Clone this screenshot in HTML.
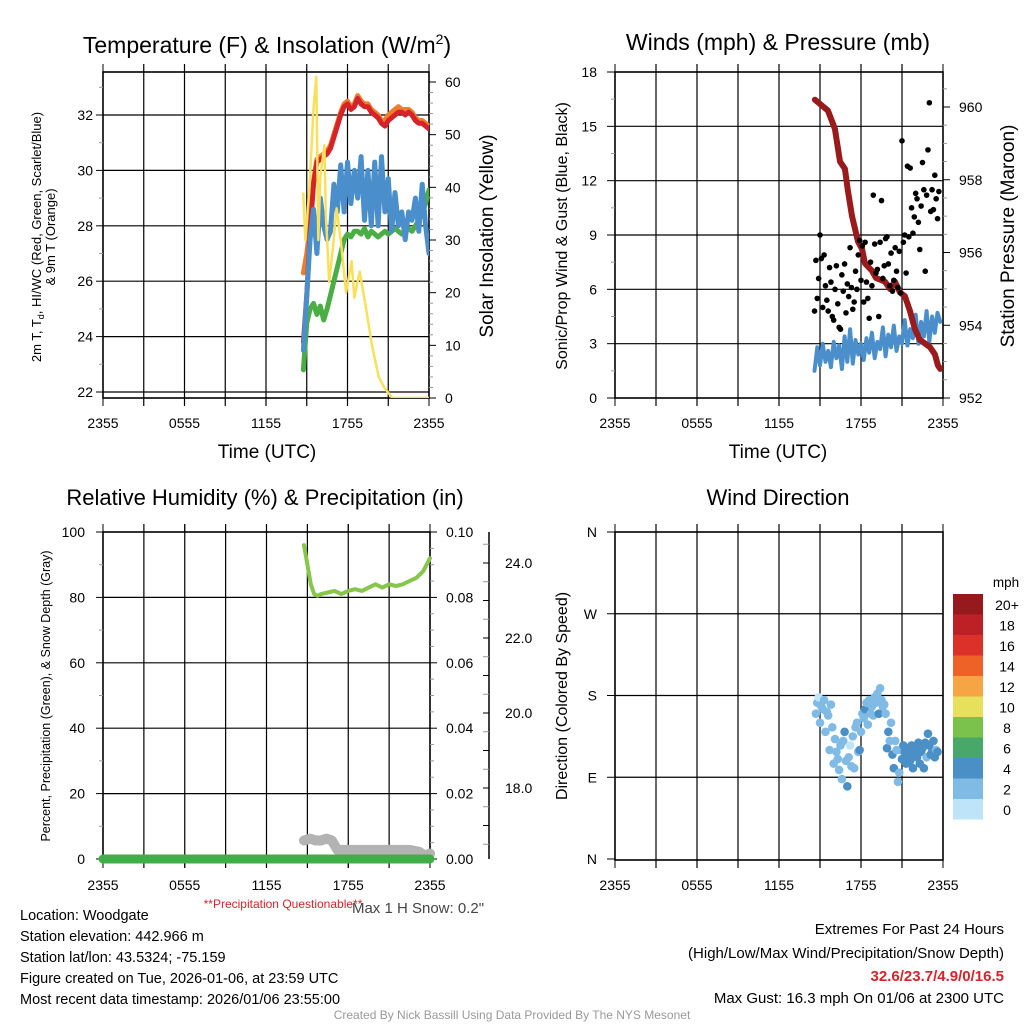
<!DOCTYPE html>
<html><head><meta charset="utf-8">
<style>
html,body{margin:0;padding:0;background:#fff;}
svg{display:block;font-family:"Liberation Sans",Arial,sans-serif;}
</style></head>
<body>
<svg id="c" width="1024" height="1024" viewBox="0 0 1024 1024"></svg>
<script>
// ---------- DATA ----------
const xTickLabels = ["2355","0555","1155","1755","2355"];
// Panel 1 (hours since 23:55 previous day)
const t1 = [14.75,15,15.25,15.5,15.75,16,16.25,16.5,16.75,17,17.25,17.5,17.75,18,18.25,18.5,18.75,19,19.25,19.5,19.75,20,20.25,20.5,20.75,21,21.25,21.5,21.75,22,22.25,22.5,22.75,23,23.25,23.5,23.75,24];
const temp2m = [23.8,25.5,27.8,29.5,30.3,30.4,30.5,30.6,30.8,31.2,31.6,32.0,32.3,32.4,32.2,32.3,32.6,32.4,32.3,32.3,32.1,32.0,31.9,31.7,31.6,31.8,31.9,32.0,32.1,32.1,32.0,32.1,32.0,31.8,31.7,31.7,31.6,31.5];
const temp9m = [26.3,27.0,28.0,29.6,30.4,30.5,30.6,30.7,30.9,31.3,31.7,32.1,32.4,32.5,32.3,32.4,32.7,32.5,32.4,32.4,32.2,32.1,32.0,31.8,31.8,32.0,32.1,32.2,32.3,32.2,32.2,32.2,32.1,31.9,31.8,31.8,31.7,31.6];
const dewpt = [22.8,24.5,25.0,25.2,24.8,25.1,24.6,25.0,25.5,26.0,26.5,27.0,27.5,27.7,27.6,27.8,27.8,27.7,27.9,27.6,27.8,27.7,27.6,27.7,27.8,27.7,27.8,27.9,27.8,27.7,27.8,27.9,27.8,28.0,28.2,28.5,28.8,29.3];
const windChill = [23.5,25.5,27.5,28.6,27.0,29.0,28.0,27.5,27.8,29.5,28.5,30.2,28.5,30.3,28.8,30.0,29.0,30.5,28.2,30.0,28.0,30.3,28.0,30.5,28.5,29.7,27.8,29.2,28.0,28.5,27.5,28.5,28.2,29.0,27.8,29.5,28.0,27.0];
const tSolar = [14.74,14.9,15.2,15.5,15.7,15.85,16.0,16.3,16.4,16.65,16.9,17.2,17.5,17.9,18.3,18.5,18.9,19.3,19.8,20.3,20.7,21.3,24];
const solar = [39,30,40,55,61,30,42,48,35,22,28,36,30,20,26,19,24,18,10,4,2,0,0];
const tempTicks = [22,24,26,28,30,32];
const solarTicks = [0,10,20,30,40,50,60];
// Panel 2
const tWind = [14.6,14.8,15,15.2,15.4,15.6,15.8,16,16.2,16.4,16.6,16.8,17,17.2,17.4,17.6,17.8,18,18.2,18.4,18.6,18.8,19,19.2,19.4,19.6,19.8,20,20.2,20.4,20.6,20.8,21,21.2,21.4,21.6,21.8,22,22.2,22.4,22.6,22.8,23,23.2,23.4,23.6,23.8];
const windSpd = [1.5,2.8,1.8,3.0,2.0,2.6,1.7,3.1,2.2,2.9,1.6,3.4,2.0,3.8,1.9,3.2,2.4,3.0,2.1,3.3,2.5,3.6,2.2,3.1,2.7,3.9,2.3,3.5,2.8,4.0,2.6,3.4,3.0,4.3,2.9,3.8,3.3,4.6,3.0,4.2,3.4,4.8,3.1,4.5,3.6,4.7,4.2];
const tGust = [14.6,14.7,14.8,14.9,15.0,15.1,15.2,15.3,15.4,15.5,15.6,15.7,15.8,15.9,16.0,16.1,16.2,16.3,16.4,16.5,16.6,16.7,16.8,16.9,17.0,17.1,17.2,17.3,17.4,17.5,17.6,17.7,17.8,17.9,18.0,18.1,18.2,18.3,18.4,18.5,18.6,18.7,18.8,18.9,19.0,19.1,19.2,19.3,19.4,19.5,19.6,19.7,19.8,19.9,20.0,20.1,20.2,20.3,20.4,20.5,20.6,20.7,20.8,20.9,21.0,21.1,21.2,21.3,21.4,21.5,21.6,21.7,21.8,21.9,22.0,22.1,22.2,22.3,22.4,22.5,22.6,22.7,22.8,22.9,23.0,23.1,23.2,23.3,23.4,23.5,23.6,23.7];
const gust = [4.8,7.6,5.5,6.6,9.0,7.7,5.0,7.9,6.2,5.4,4.8,7.2,6.4,4.5,4.3,6.0,7.3,5.2,3.9,3.8,6.8,5.9,7.4,4.7,6.3,5.6,8.3,6.1,4.9,5.3,7.0,6.0,7.9,8.7,6.5,8.4,5.3,8.6,6.4,5.5,4.4,7.5,6.2,11.2,8.5,6.9,7.1,4.5,8.6,10.9,6.6,7.3,8.8,8.9,7.4,6.2,8.0,5.9,6.5,8.3,7.0,6.1,8.1,5.8,14.2,8.6,9.0,6.9,12.8,8.9,12.7,10.5,9.1,10.0,11.3,11.0,9.7,8.2,10.6,13.0,11.5,7.0,11.2,13.7,16.3,10.3,11.5,10.4,12.3,11.0,9.9,11.4];
const tPres = [14.63,15.58,16.09,16.46,16.82,17.04,17.34,17.78,18.07,18.29,18.8,19.1,19.75,20.12,20.48,20.85,21.21,21.58,21.94,22.31,23.04,23.41,23.63,23.8];
const pressure = [960.2,959.9,959.4,958.5,958.3,957.7,957.0,956.3,956.1,955.7,955.5,955.3,955.2,955.0,955.2,954.9,954.8,954.4,953.9,953.6,953.4,953.2,952.9,952.8];
const windTicks = [0,3,6,9,12,15,18];
const presTicks = [952,954,956,958,960];
// Panel 3
const tRH = [14.75,15.0,15.25,15.5,15.75,16,16.5,17,17.5,18,18.5,19,19.5,20,20.5,21,21.5,22,22.5,23,23.5,24];
const rh = [96,90,84,81,80.5,81,81.5,82,81,82,82.5,82,83,84,83,84,83.5,84,85,86,88,92];
const tPrecip = [0,24];
const precip = [0,0];
const tSnow = [14.75,15.2,15.6,16.0,16.4,16.8,17.2,17.6,18.5,19.5,20.5,21.5,22.5,23.2,23.6,24];
const snowDepth = [16.6,16.65,16.6,16.6,16.65,16.6,16.35,16.35,16.35,16.35,16.35,16.35,16.35,16.3,16.2,16.25];
const pctTicks = [0,20,40,60,80,100];
const precipTicks = ["0.00","0.02","0.04","0.06","0.08","0.10"];
const snowTicks = [18,20,22,24];
// Panel 4
const tDir = [14.7,14.8,14.9,15.0,15.1,15.2,15.3,15.4,15.5,15.6,15.7,15.8,15.9,16.0,16.1,16.2,16.3,16.4,16.5,16.6,16.7,16.8,16.9,17.0,17.1,17.2,17.3,17.4,17.5,17.6,17.7,17.8,17.9,18.0,18.1,18.2,18.3,18.4,18.5,18.6,18.7,18.8,18.9,19.0,19.1,19.2,19.3,19.4,19.5,19.6,19.7,19.8,19.9,20.0,20.1,20.2,20.3,20.4,20.5,20.6,20.7,20.8,20.9,21.0,21.1,21.2,21.3,21.4,21.5,21.6,21.7,21.8,21.9,22.0,22.1,22.2,22.3,22.4,22.5,22.6,22.7,22.8,22.9,23.0,23.1,23.2,23.3,23.4,23.5,23.6];
const dir = [160,172,178,150,168,165,175,140,162,158,120,170,145,105,132,118,110,98,125,88,130,140,108,80,112,125,102,135,100,145,150,118,120,140,160,155,165,172,148,175,160,168,158,178,172,182,160,188,175,168,170,160,122,140,130,150,115,100,130,120,85,95,120,110,125,118,105,112,120,108,125,100,115,120,112,128,105,118,122,100,128,112,138,125,115,118,130,112,120,118];
const dirSpd = [3,3,1,3,3,3,3,3,3,3,3,3,3,3,3,3,3,3,3,3,3,4,3,4,3,1,3,3,3,3,3,3,4,3,3,3,4,3,3,3,3,3,3,3,3,3,4,3,3,3,3,3,5,5,3,3,4,4,3,3,3,3,3,5,5,5,5,5,5,5,4,5,5,5,5,5,4,5,5,5,5,3,4,5,5,5,5,5,3,5];
const cbLabels = ["20+","18","16","14","12","10","8","6","4","2","0"];
const cbColors = ["#961a1d","#bd2127","#dc3129","#ef6227","#f6a544","#e6e05c","#7bc24c","#48a86a","#4a8fc6","#80bbe6","#bde4f8"];

// ---------- HELPERS ----------
const svg = document.getElementById('c');
const NS = "http://www.w3.org/2000/svg";
function mk(tag, attrs, parent){const e=document.createElementNS(NS,tag);for(const k in attrs)e.setAttribute(k,attrs[k]);(parent||svg).appendChild(e);return e;}
function txt(x,y,s,size,anchor,extra){const e=mk('text',Object.assign({x:x,y:y,'font-size':size,'text-anchor':anchor||'middle',fill:'#000'},extra||{}));e.textContent=s;return e;}
function linScale(d0,d1,r0,r1){return v=>r0+(v-d0)/(d1-d0)*(r1-r0);}
function pathD(xs,ys,fx,fy){return xs.map((v,i)=>(i?'L':'M')+fx(v).toFixed(1)+','+fy(ys[i]).toFixed(1)).join(' ');}

function frame(x0,x1,y0,y1,fx,gridYs,name){
  const g=mk('g',{});
  
  
  for(let h=3;h<24;h+=3){mk('line',{x1:fx(h),x2:fx(h),y1:y0-8,y2:y1+8,stroke:'#000','stroke-width':1.2},g);}
  gridYs.forEach(y=>{if(Math.abs(y-y0)<1.5||Math.abs(y-y1)<1.5)return;mk('line',{x1:x0,x2:x1,y1:y,y2:y,stroke:'#000','stroke-width':1.2},g);});
  const r=mk('rect',{x:x0,y:y0,width:x1-x0,height:y1-y0,fill:'none',stroke:'#000','stroke-width':1.6});
  
  
  xTickLabels.forEach((s,i)=>{const x=fx(i*6);mk('line',{x1:x,x2:x,y1:y1,y2:y1+8,stroke:'#000'});mk('line',{x1:x,x2:x,y1:y0-8,y2:y0,stroke:'#000'});const t=txt(x,y1+30,s,14);});
}

// ---------- PANEL 1 ----------
{
  const X0=103,X1=429,Y0=72,Y1=398;
  const fx=linScale(0,24,X0,X1), fyT=linScale(22,32,392,115), fyS=linScale(0,60,398,82);
  frame(X0,X1,Y0,Y1,fx,tempTicks.map(fyT),'temp-panel');
  for(let v=22;v<=33;v+=1){const y=fyT(v);if(y<Y0)continue;mk('line',{x1:X0-(v%2?4:7),x2:X0,y1:y,y2:y,stroke:v%2?'#999':'#000'});}
  tempTicks.forEach(v=>{const y=fyT(v);const t=txt(X0-10,y+5,String(v),14,'end');});
  for(let v=0;v<=60;v+=2){const y=fyS(v);mk('line',{x1:X1,x2:X1+(v%10?4:7),y1:y,y2:y,stroke:v%10?'#999':'#000'});}
  solarTicks.forEach(v=>{const t=txt(X1+16,fyS(v)+5,String(v),14,'start');});
  const clip=mk('clipPath',{id:'cp1'});mk('rect',{x:X0,y:Y0,width:X1-X0,height:Y1-Y0},clip);
  const g=mk('g',{'clip-path':'url(#cp1)'});
  const s9=mk('path',{d:pathD(t1,temp9m,fx,fyT),fill:'none',stroke:'#f07d2c','stroke-width':5,'stroke-linejoin':'round','stroke-linecap':'round'},g);
  
  const sR=mk('path',{d:pathD(t1,temp2m,fx,fyT),fill:'none',stroke:'#d52329','stroke-width':5,'stroke-linejoin':'round','stroke-linecap':'round'},g);
  
  const sG=mk('path',{d:pathD(t1,dewpt,fx,fyT),fill:'none',stroke:'#4aae45','stroke-width':5,'stroke-linejoin':'round','stroke-linecap':'round'},g);
  
  const sB=mk('path',{d:pathD(t1,windChill,fx,fyT),fill:'none',stroke:'#4a8fcb','stroke-width':5,'stroke-linejoin':'round','stroke-linecap':'round'},g);
  
  const sY=mk('path',{d:pathD(tSolar,solar,fx,fyS),fill:'none',stroke:'#f9e05a','stroke-width':2.5,'stroke-linejoin':'round'},g);
  
  const ti=txt(267,53,'',23);ti.innerHTML='Temperature (F) &amp; Insolation (W/m<tspan dy="-9" font-size="14">2</tspan><tspan dy="9">)</tspan>';
  
  const xl=txt(267,458,'Time (UTC)',19);
  const yl=txt(0,0,'',13,'middle',{transform:'translate(41,237) rotate(-90)'});yl.innerHTML='2m T, T<tspan dy="3" font-size="9">d</tspan><tspan dy="-3">, HI/WC (Red, Green, Scarlet/Blue)</tspan>';
  
  const yl2=txt(0,0,'& 9m T (Orange)',13,'middle',{transform:'translate(55,237) rotate(-90)'});
  
  const yr=txt(0,0,'Solar Insolation (Yellow)',19,'middle',{transform:'translate(493,236) rotate(-90)'});
  
}

// ---------- PANEL 2 ----------
{
  const X0=615,X1=943,Y0=72,Y1=398;
  const fx=linScale(0,24,X0,X1), fyW=linScale(0,18,398,72), fyP=linScale(952,960,398,107);
  frame(X0,X1,Y0,Y1,fx,windTicks.map(fyW),'wind-panel');
  for(let v=0;v<=18;v+=1.5){const y=fyW(v);mk('line',{x1:X0-(v%3?4:8),x2:X0,y1:y,y2:y,stroke:v%3?'#999':'#000'});}
  windTicks.forEach(v=>{const y=fyW(v);const t=txt(X0-18,y+5,String(v),14,'end');});
  for(let v=952;v<=961;v+=0.5){const y=fyP(v);if(y<Y0)continue;mk('line',{x1:X1,x2:X1+(v%2?4:7),y1:y,y2:y,stroke:v%2?'#999':'#000'});}
  presTicks.forEach(v=>{const t=txt(X1+16,fyP(v)+5,String(v),14,'start');});
  const clip=mk('clipPath',{id:'cp2'});mk('rect',{x:X0,y:Y0,width:X1-X0,height:Y1-Y0},clip);
  const g=mk('g',{'clip-path':'url(#cp2)'});
  const sW=mk('path',{d:pathD(tWind,windSpd,fx,fyW),fill:'none',stroke:'#4a8fcb','stroke-width':4,'stroke-linejoin':'round','stroke-linecap':'round'},g);
  
  const sP=mk('path',{d:pathD(tPres,pressure,fx,fyP),fill:'none',stroke:'#9a1b1c','stroke-width':6,'stroke-linejoin':'round','stroke-linecap':'round'},g);
  
  tGust.forEach((h,i)=>{const c=mk('circle',{cx:fx(h),cy:fyW(gust[i]),r:2.8,fill:'#000'},g);
    
    });
  const ti=txt(778,50,'Winds (mph) & Pressure (mb)',23);
  const xl=txt(778,458,'Time (UTC)',19);
  const yl=txt(0,0,'Sonic/Prop Wind & Gust (Blue, Black)',16,'middle',{transform:'translate(567,236) rotate(-90)'});
  
  const yr=txt(0,0,'Station Pressure (Maroon)',19,'middle',{transform:'translate(1014,236) rotate(-90)'});
  
}

// ---------- PANEL 3 ----------
{
  const X0=103,X1=430,Y0=532,Y1=860;
  const fx=linScale(0,24,X0,X1), fyR=linScale(0,100,859,532), fyS=linScale(18,24,788,563);
  frame(X0,X1,Y0,Y1,fx,pctTicks.map(fyR),'rh-panel');
  for(let v=0;v<=100;v+=10){const y=fyR(v);mk('line',{x1:X0-(v%20?4:7),x2:X0,y1:y,y2:y,stroke:v%20?'#999':'#000'});}
  pctTicks.forEach(v=>{const y=fyR(v);const t=txt(X0-18,y+5,String(v),14,'end');});
  for(let v=0;v<=100;v+=5){const y=fyR(v);mk('line',{x1:X1,x2:X1+(v%20?4:7),y1:y,y2:y,stroke:v%20?'#999':'#000'});}
  precipTicks.forEach((s,i)=>{const t=txt(X1+16,fyR(i*20)+5,s,14,'start');});
  mk('line',{x1:489,x2:489,y1:532,y2:859,stroke:'#000','stroke-width':1.5});
  for(let v=16.5;v<=25;v+=0.5){const y=fyS(v);if(y<532||y>859)continue;mk('line',{x1:483,x2:489,y1:y,y2:y,stroke:v%1?'#999':'#000'});}
  snowTicks.forEach(v=>{const t=txt(505,fyS(v)+5,v.toFixed(1),14,'start');});
  const sS=mk('path',{d:pathD(tSnow,snowDepth,fx,fyS),fill:'none',stroke:'#b3b3b3','stroke-width':10,'stroke-linejoin':'round','stroke-linecap':'round'});
  
  const sPr=mk('path',{d:pathD(tPrecip,precip,fx,v=>fyR(v*1000)),fill:'none',stroke:'#3fae49','stroke-width':9,'stroke-linecap':'round'});
  
  const sR=mk('path',{d:pathD(tRH,rh,fx,fyR),fill:'none',stroke:'#86c64a','stroke-width':4,'stroke-linejoin':'round','stroke-linecap':'round'});
  
  const ti=txt(265,505,'Relative Humidity (%) & Precipitation (in)',22);
  const yl=txt(0,0,'Percent, Precipitation (Green), & Snow Depth (Gray)',12.5,'middle',{transform:'translate(50,696) rotate(-90)'});
  
  const pq=txt(283,908,'**Precipitation Questionable**',12,'middle',{fill:'#d9232a'});
  const ms=txt(418,913,'Max 1 H Snow: 0.2"',15,'middle',{fill:'#444'});
}

// ---------- PANEL 4 ----------
{
  const X0=615,X1=943,Y0=532,Y1=860;
  const fx=linScale(0,24,X0,X1), fyD=linScale(0,360,859,532);
  const dirLbl=['N','E','S','W','N'];
  frame(X0,X1,Y0,Y1,fx,[0,90,180,270,360].map(fyD),'dir-panel');
  dirLbl.forEach((s,i)=>{const y=fyD(i*90);mk('line',{x1:X0-8,x2:X0,y1:y,y2:y,stroke:'#000'});const t=txt(X0-18,y+5,s,14,'end');});
  tDir.forEach((h,i)=>{const sp=dirSpd[i];
    const col=sp<2?cbColors[10]:(sp<4?cbColors[9]:cbColors[8]);
    const c=mk('circle',{cx:fx(h),cy:fyD(dir[i]),r:4.3,fill:col});
    
    });
  const ti=txt(778,505,'Wind Direction',22);
  const yl=txt(0,0,'Direction (Colored By Speed)',16,'middle',{transform:'translate(567,696) rotate(-90)'});
  
  const ut=txt(1006,587,'mph',13.5);
  cbColors.forEach((c,i)=>{const r=mk('rect',{x:953,y:594+i*20.5,width:30,height:20.5,fill:c});
    
    
    const t=txt(1007,594+i*20.5+16,cbLabels[i],14);});
}

// ---------- FOOTER TEXT ----------
const leftLines=['Location: Woodgate','Station elevation: 442.966 m','Station lat/lon: 43.5324; -75.159','Figure created on Tue, 2026-01-06, at 23:59 UTC','Most recent data timestamp: 2026/01/06 23:55:00'];
leftLines.forEach((s,i)=>{const t=txt(20,920+i*21,s,14.5,'start');});
const e1=txt(1004,934,'Extremes For Past 24 Hours',15,'end');
const e2=txt(1004,958,'(High/Low/Max Wind/Precipitation/Snow Depth)',15,'end');
const e3=txt(1004,981,'32.6/23.7/4.9/0/16.5',15,'end',{fill:'#d9232a','font-weight':'bold'});
const e4=txt(1004,1003,'Max Gust: 16.3 mph On 01/06 at 2300 UTC',15,'end');
const cr=txt(512,1019,'Created By Nick Bassill Using Data Provided By The NYS Mesonet',12,'middle',{fill:'#999'});
</script>
</body></html>
